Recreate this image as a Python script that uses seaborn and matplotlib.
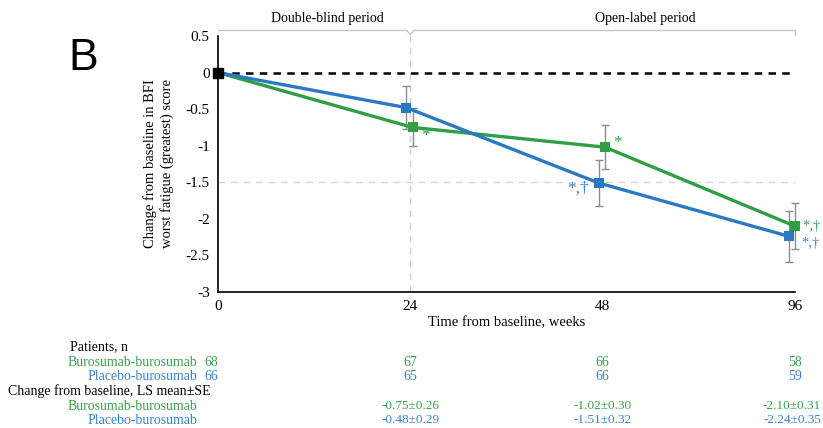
import numpy as np
import pandas as pd
import matplotlib
matplotlib.use("Agg")
import matplotlib.pyplot as plt
import matplotlib.transforms as mtransforms
import seaborn as sns

# ---- data ----
weeks = ["0", "24", "48", "96"]
groups = ["Burosumab-burosumab", "Placebo-burosumab"]
bb_mean = [0.0, -0.75, -1.02, -2.10]
bb_se = [0.0, 0.26, 0.30, 0.31]
pb_mean = [0.0, -0.48, -1.51, -2.24]
pb_se = [0.0, 0.29, 0.32, 0.35]
bb_n = [68, 67, 66, 58]
pb_n = [66, 65, 66, 59]
yticks = [0.5, 0, -0.5, -1, -1.5, -2, -2.5, -3]
ytick_labels = ["0.5", "0", "-0.5", "-1", "-1.5", "-2", "-2.5", "-3"]
bb_marks = ["", "*", "*", "*,†"]
pb_marks = ["", "", "*,†", "*,†"]

GREEN = "#2f9e44"
BLUE = "#2b79c2"
GREEN_T = "#3aa04e"
BLUE_T = "#3a82c8"

sns.set_style("white")
plt.rcParams["font.family"] = ["Liberation Serif", "DejaVu Serif"]
plt.rcParams["text.color"] = "black"
plt.rcParams["axes.labelcolor"] = "black"
plt.rcParams["xtick.color"] = "black"
plt.rcParams["ytick.color"] = "black"

pos = np.arange(len(weeks), dtype=float)
dodge = {"Burosumab-burosumab": 0.012, "Placebo-burosumab": -0.02}
df = pd.DataFrame({
    "week": weeks * 2,
    "group": [groups[0]] * 4 + [groups[1]] * 4,
    "mean": bb_mean + pb_mean,
    "se": bb_se + pb_se,
})
df["x"] = np.tile(pos, 2) + df["group"].map(dodge)
df.loc[df["week"] == "0", "x"] = 0.0
df.loc[(df["week"] == "96") & (df["group"] == groups[0]), "x"] = 3.0
df.loc[(df["week"] == "96") & (df["group"] == groups[1]), "x"] = 2.97

fig = plt.figure(figsize=(8.23, 4.28), dpi=100)
W, H = 823, 428
ax = fig.add_axes([218 / W, 1 - 292 / H, (795 - 218) / W, (292 - 36) / H])

# reference lines
ax.axhline(0, color="black", lw=1.8, ls=(0, (3, 2.5)), zorder=1)
ax.axhline(-1.5, color="#d8d8d8", lw=1.0, ls=(0, (5, 4)), zorder=0)
ax.plot([1, 1], [-3, 0.55], color="#d0d0d0", lw=1.0, ls=(0, (5, 4)),
        zorder=0, clip_on=False)

# error bars
for g in groups:
    sub = df[(df["group"] == g) & (df["week"] != "0")]
    eb = ax.errorbar(sub["x"], sub["mean"], yerr=sub["se"], fmt="none",
                     ecolor="#8c8c8c", elinewidth=1.0, capsize=3, capthick=1.0,
                     zorder=2)
    for art in eb.lines[1] + eb.lines[2]:
        art.set_clip_on(False)

sns.lineplot(data=df, x="x", y="mean", hue="group",
             palette={groups[0]: GREEN, groups[1]: BLUE},
             marker="s", markersize=7, markeredgewidth=0, linewidth=2.4,
             legend=False, ax=ax, zorder=3, sort=False)
for ln in ax.lines:
    ln.set_clip_on(False)
ax.scatter([0], [0], marker="s", s=55, color="black", zorder=5, clip_on=False)

# significance marks
offsets = {
    (groups[0], 1): (6, -6, "left", 12.5),
    (groups[0], 2): (6, 3, "left", 12.5),
    (groups[0], 3): (5, 0, "left", 10.5),
    (groups[1], 2): (-7, -4, "right", 12.5),
    (groups[1], 3): (9, -5, "left", 10.5),
}
for g, marks, col in [(groups[0], bb_marks, GREEN_T), (groups[1], pb_marks, BLUE_T)]:
    sub = df[df["group"] == g].reset_index(drop=True)
    for i, m in enumerate(marks):
        if not m:
            continue
        x, y = sub.loc[i, "x"], sub.loc[i, "mean"]
        dx, dy, ha, fsz = offsets[(g, i)]
        ax.annotate(m, (x, y), xytext=(dx, dy), textcoords="offset points",
                    ha=ha, va="center", color=col, fontsize=fsz,
                    annotation_clip=False)

ax.set_xlim(0, 3)
ax.set_ylim(-3, 0.5)
ax.set_xticks(pos)
ax.set_xticklabels(weeks, fontsize=11)
ax.set_yticks(yticks)
ax.set_yticklabels(ytick_labels, fontsize=11)
ax.tick_params(axis="both", direction="out", length=4, width=1, color="black", pad=2)
for s in ["top", "right"]:
    ax.spines[s].set_visible(False)
for s in ["left", "bottom"]:
    ax.spines[s].set_color("black")
    ax.spines[s].set_linewidth(1.2)
ax.set_xlabel("Time from baseline, weeks", fontsize=10.5, labelpad=2)
ax.set_ylabel("Change from baseline in BFI\nworst fatigue (greatest) score",
              fontsize=10.5, labelpad=8, linespacing=1.3)

# period brackets
by = 0.58
bc = "#c8c8c8"
ax.plot([0, 0.98], [by, by], color=bc, lw=1.0, clip_on=False)
ax.plot([1.02, 3], [by, by], color=bc, lw=1.0, clip_on=False)
ax.plot([0.98, 1, 1.02], [by, by - 0.06, by], color=bc, lw=1.0, clip_on=False)
ax.plot([3, 3], [by, by - 0.06], color=bc, lw=1.0, clip_on=False)
ax.text(0.57, 0.74, "Double-blind period", ha="center", va="center", fontsize=10)
ax.text(2.22, 0.74, "Open-label period", ha="center", va="center", fontsize=10)

# panel letter
fig.text(68 / W, 1 - 58 / H, "B", fontsize=32, family="Liberation Sans",
         ha="left", va="center", color="black")

# table below
tr = mtransforms.blended_transform_factory(ax.transData, fig.transFigure)
def fy(py):
    return 1 - py / H

fs = 10
fig.text(128 / W, fy(347), "Patients, n", ha="right", va="center", fontsize=fs)
fig.text(197 / W, fy(362), groups[0], ha="right", va="center", fontsize=fs, color=GREEN_T)
fig.text(197 / W, fy(377), groups[1], ha="right", va="center", fontsize=fs, color=BLUE_T)
for i in range(len(weeks)):
    xp = pos[i] if i > 0 else -0.035
    ax.text(xp, fy(362), str(bb_n[i]), transform=tr, ha="center", va="center",
            fontsize=fs, color=GREEN_T)
    ax.text(xp, fy(377), str(pb_n[i]), transform=tr, ha="center", va="center",
            fontsize=fs, color=BLUE_T)

fig.text(8 / W, fy(391), "Change from baseline, LS mean±SE", ha="left", va="center", fontsize=fs)
fig.text(197 / W, fy(406), groups[0], ha="right", va="center", fontsize=fs, color=GREEN_T)
fig.text(197 / W, fy(420), groups[1], ha="right", va="center", fontsize=fs, color=BLUE_T)
for i in range(1, len(weeks)):
    xp = pos[i] if i < 3 else 2.985
    ax.text(xp, fy(406), f"{bb_mean[i]:.2f}±{bb_se[i]:.2f}", transform=tr,
            ha="center", va="center", fontsize=9.5, color=GREEN_T)
    ax.text(xp, fy(420), f"{pb_mean[i]:.2f}±{pb_se[i]:.2f}", transform=tr,
            ha="center", va="center", fontsize=9.5, color=BLUE_T)

fig.savefig("out.png", dpi=100)
